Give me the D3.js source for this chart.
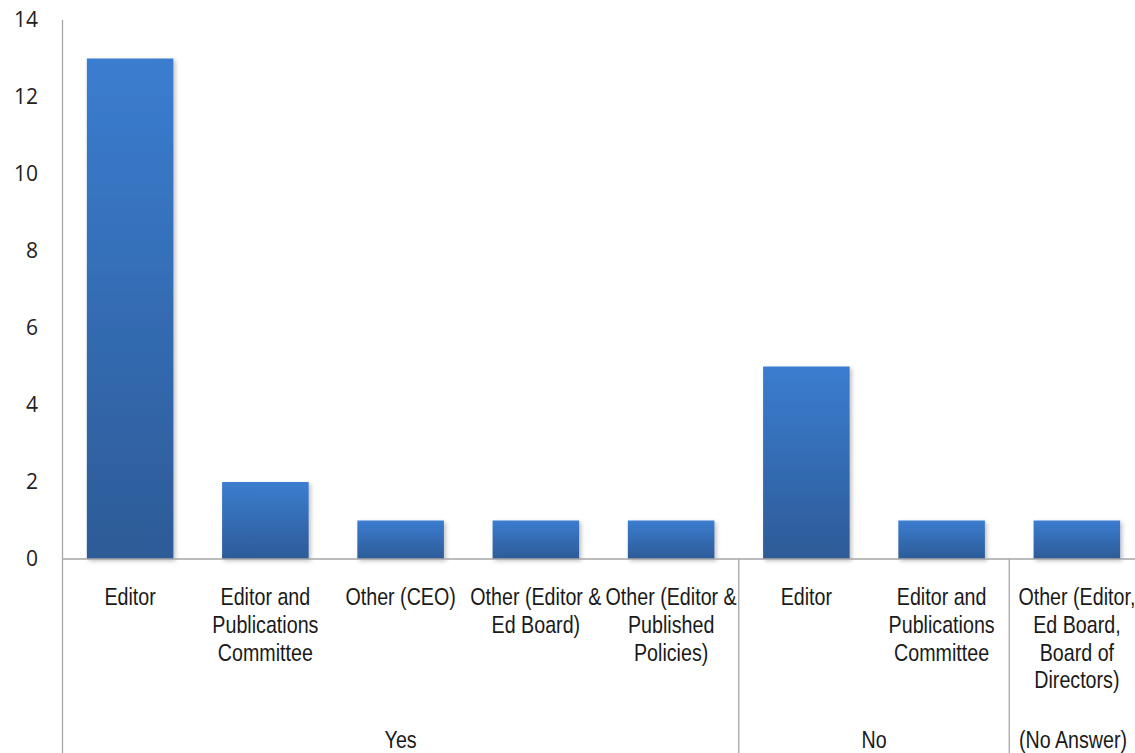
<!DOCTYPE html>
<html>
<head>
<meta charset="utf-8">
<script src="https://cdn.jsdelivr.net/npm/d3@7"></script>
<style>
  html, body { margin: 0; padding: 0; background: #fff; }
  svg { display: block; }
  .tick-label { font-family: "Open Sans", "Noto Sans", sans-serif; font-size: 21px; fill: #222; }
  .cat-label { font-family: "Liberation Sans", Arial, sans-serif; font-size: 24px; fill: #1a1a1a; }
</style>
</head>
<body>
<svg id="chart" width="1135" height="753"></svg>
<script>
// Responses grouped by answer, one bar per decision-maker
const groups = ["Yes", "No", "(No Answer)"];
const groupOf = ["Yes", "Yes", "Yes", "Yes", "Yes", "No", "No", "(No Answer)"];
const categories = [
  "Editor",
  "Editor and\nPublications\nCommittee",
  "Other (CEO)",
  "Other (Editor &\nEd Board)",
  "Other (Editor &\nPublished\nPolicies)",
  "Editor",
  "Editor and\nPublications\nCommittee",
  "Other (Editor,\nEd Board,\nBoard of\nDirectors)"
];
const values = [13, 2, 1, 1, 1, 5, 1, 1];
const yTicks = [0, 2, 4, 6, 8, 10, 12, 14];

const svg = d3.select("#chart");
const plotLeft = 62.5, plotRight = 1144.5, plotTop = 20, zeroY = 559, plotBottom = 753;
const narrow = 0.82; // horizontal squeeze giving a condensed face

const keys = categories.map((c, i) => i);
const x = d3.scaleBand().domain(keys).range([plotLeft, plotRight])
  .paddingInner(0.36).paddingOuter(0.18);
const y = d3.scaleLinear().domain([0, 14]).range([zeroY, plotTop]);

const defs = svg.append("defs");
const grad = defs.append("linearGradient").attr("id", "barGrad")
  .attr("x1", 0).attr("y1", 0).attr("x2", 0).attr("y2", 1);
grad.append("stop").attr("offset", "0%").attr("stop-color", "#3b7dd0");
grad.append("stop").attr("offset", "100%").attr("stop-color", "#2d5b97");

const shadow = defs.append("filter").attr("id", "barShadow")
  .attr("x", "-10%").attr("y", "-10%").attr("width", "130%").attr("height", "130%");
shadow.append("feDropShadow").attr("dx", 2).attr("dy", 2).attr("stdDeviation", 2)
  .attr("flood-color", "#000").attr("flood-opacity", 0.25);

// Y axis labels (no tick marks)
svg.append("g").selectAll("text").data(yTicks).join("text")
  .attr("class", "tick-label")
  .attr("x", 38).attr("y", d => y(d)).attr("dy", "0.35em")
  .attr("text-anchor", "end")
  .text(d => d);

// Bars
svg.append("g").selectAll("rect").data(values).join("rect")
  .attr("x", (d, i) => x(i))
  .attr("width", x.bandwidth())
  .attr("y", d => y(d))
  .attr("height", d => y(0) - y(d))
  .attr("fill", "url(#barGrad)")
  .attr("filter", "url(#barShadow)");

// Axis lines
const axisColor = "#a6a6a6";
svg.append("line").attr("x1", plotLeft).attr("x2", plotLeft).attr("y1", plotTop).attr("y2", plotBottom)
  .attr("stroke", axisColor).attr("stroke-width", 1.3);
svg.append("line").attr("x1", plotLeft).attr("x2", plotRight).attr("y1", zeroY).attr("y2", zeroY)
  .attr("stroke", axisColor).attr("stroke-width", 1.3);

// Group extents: boundaries sit midway between neighbouring bars
const groupRanges = groups.map(g => {
  const idx = keys.filter(i => groupOf[i] === g);
  const first = idx[0], last = idx[idx.length - 1];
  const start = first === 0 ? plotLeft : (x(first - 1) + x.bandwidth() + x(first)) / 2;
  const end = last === keys.length - 1 ? plotRight : (x(last) + x.bandwidth() + x(last + 1)) / 2;
  return { g, start, end };
});
svg.append("g").selectAll("line").data(groupRanges.slice(1)).join("line")
  .attr("x1", d => d.start).attr("x2", d => d.start)
  .attr("y1", zeroY).attr("y2", plotBottom)
  .attr("stroke", axisColor).attr("stroke-width", 1.3);
svg.append("g").selectAll("text").data(groupRanges).join("text")
  .attr("class", "cat-label")
  .attr("transform", d => `translate(${Math.min((d.start + d.end) / 2, 1073)},748) scale(${narrow},1)`)
  .attr("text-anchor", "middle")
  .text(d => d.g);

// Category labels
const catG = svg.append("g");
categories.forEach((c, i) => {
  const cx = x(i) + x.bandwidth() / 2;
  const t = catG.append("text").attr("class", "cat-label")
    .attr("transform", `translate(${cx},0) scale(${narrow},1)`)
    .attr("text-anchor", "middle");
  c.split("\n").forEach((line, k) => {
    t.append("tspan").attr("x", 0).attr("y", 605 + k * 27.8).text(line);
  });
});
</script>
</body>
</html>
